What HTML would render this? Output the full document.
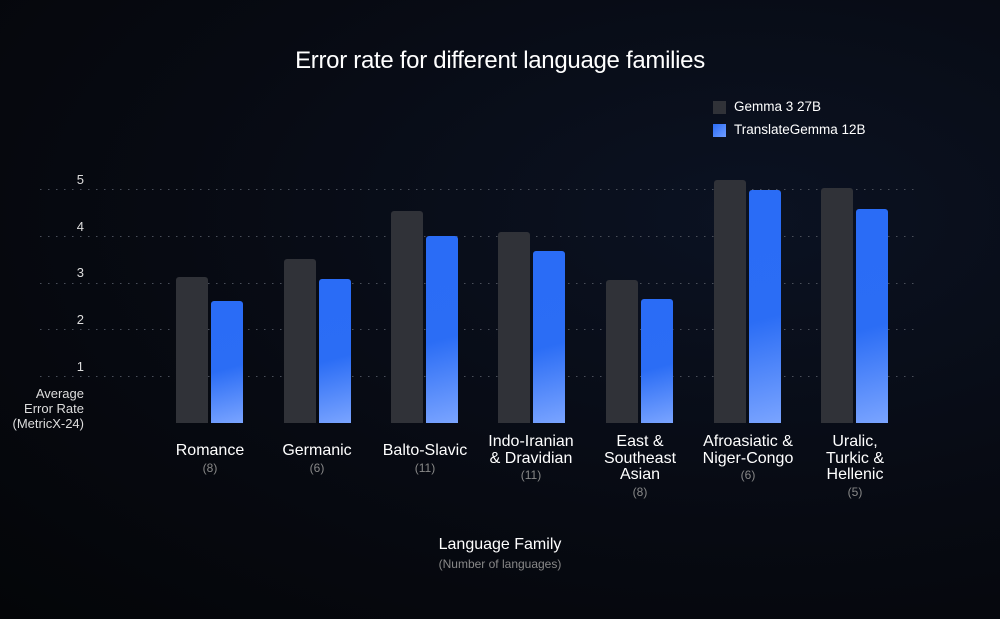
<!DOCTYPE html>
<html><head><meta charset="utf-8"><style>
body{margin:0;width:1000px;height:619px;overflow:hidden;background:radial-gradient(ellipse at 75% 35%,#0b1222 0%,#070a12 55%,#040508 100%);font-family:"Liberation Sans",sans-serif;color:#fff;position:relative}
.a{position:absolute}
.t{left:0;width:1000px;text-align:center;top:47px;font-size:24px;letter-spacing:-0.3px}
.g{left:40px;width:880px;height:1px;background:repeating-linear-gradient(90deg,#4a4f5a 0 1.5px,transparent 1.5px 8px)}
.yl{width:84px;text-align:right;font-size:13px;color:#ddd}
.b{width:32px;border-radius:3px 3px 0 0}
.gr{background:#303238}
.bl{background:linear-gradient(165deg,#2a6cf6 0%,#2b6df5 55%,#7aa4ff 100%)}
.lab{width:130px;text-align:center;font-size:16px;line-height:16.5px;color:#fff}
.lab span{font-size:12px;color:#888;display:block;line-height:16px}
</style></head><body>
<div class="a t">Error rate for different language families</div>
<div class="a" style="left:713px;top:101px;width:13px;height:13px;background:#303238"></div>
<div class="a" style="left:734px;top:99px;font-size:13.5px">Gemma 3 27B</div>
<div class="a" style="left:713px;top:124px;width:13px;height:13px;background:linear-gradient(135deg,#2a6cf6,#6f9cff)"></div>
<div class="a" style="left:734px;top:122px;font-size:13.5px">TranslateGemma 12B</div>

<div class="a g" style="top:189px"></div><div class="a g" style="top:236px"></div><div class="a g" style="top:283px"></div><div class="a g" style="top:329px"></div><div class="a g" style="top:376px"></div>
<div class="a yl" style="left:0;top:172px">5</div>
<div class="a yl" style="left:0;top:219px">4</div>
<div class="a yl" style="left:0;top:265px">3</div>
<div class="a yl" style="left:0;top:312px">2</div>
<div class="a yl" style="left:0;top:359px">1</div>
<div class="a yl" style="left:0;top:386px;line-height:15px">Average<br>Error Rate<br>(MetricX-24)</div>

<div class="a b gr" style="left:176px;top:277px;height:146px"></div><div class="a b bl" style="left:211px;top:301px;height:122px"></div>
<div class="a b gr" style="left:284px;top:259px;height:164px"></div><div class="a b bl" style="left:319px;top:279px;height:144px"></div>
<div class="a b gr" style="left:391px;top:211px;height:212px"></div><div class="a b bl" style="left:426px;top:236px;height:187px"></div>
<div class="a b gr" style="left:498px;top:232px;height:191px"></div><div class="a b bl" style="left:533px;top:251px;height:172px"></div>
<div class="a b gr" style="left:606px;top:280px;height:143px"></div><div class="a b bl" style="left:641px;top:299px;height:124px"></div>
<div class="a b gr" style="left:714px;top:180px;height:243px"></div><div class="a b bl" style="left:749px;top:190px;height:233px"></div>
<div class="a b gr" style="left:821px;top:188px;height:235px"></div><div class="a b bl" style="left:856px;top:209px;height:214px"></div>

<div class="a lab" style="left:145px;top:443px">Romance<span>(8)</span></div>
<div class="a lab" style="left:252px;top:443px">Germanic<span>(6)</span></div>
<div class="a lab" style="left:360px;top:443px">Balto-Slavic<span>(11)</span></div>
<div class="a lab" style="left:466px;top:434px">Indo-Iranian<br>&amp; Dravidian<span>(11)</span></div>
<div class="a lab" style="left:575px;top:434px">East &amp;<br>Southeast<br>Asian<span>(8)</span></div>
<div class="a lab" style="left:683px;top:434px">Afroasiatic &amp;<br>Niger-Congo<span>(6)</span></div>
<div class="a lab" style="left:790px;top:434px">Uralic,<br>Turkic &amp;<br>Hellenic<span>(5)</span></div>

<div class="a" style="left:0;width:1000px;text-align:center;top:536px;font-size:16px">Language Family</div>
<div class="a" style="left:0;width:1000px;text-align:center;top:557px;font-size:12px;color:#888">(Number of languages)</div>
</body></html>
